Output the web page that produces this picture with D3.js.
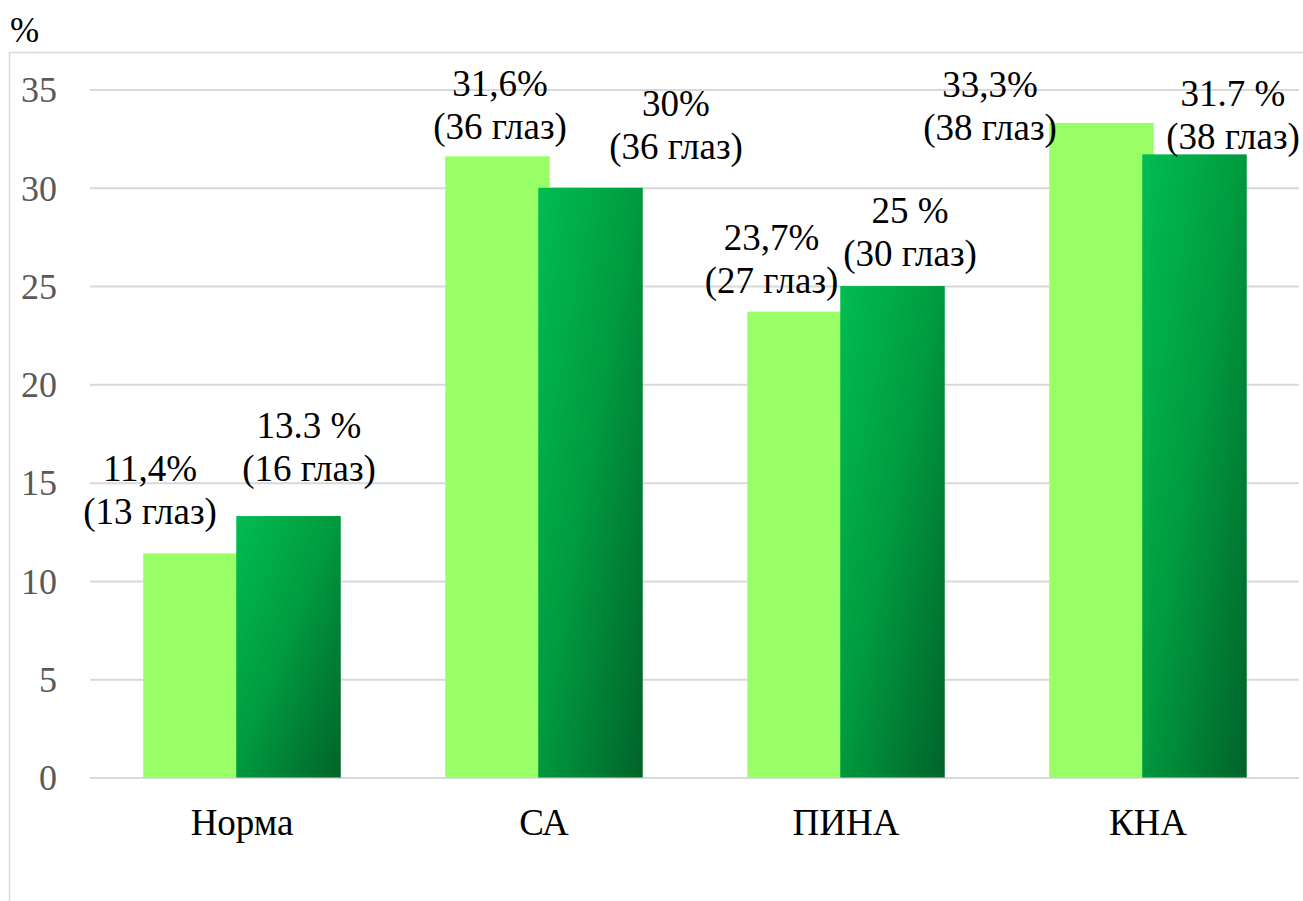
<!DOCTYPE html>
<html><head><meta charset="utf-8"><script src="https://cdn.jsdelivr.net/npm/d3@7"></script></head>
<body style="margin:0">
<svg id="chart" width="1303" height="901"></svg>
<script>
// ---- data ----
const categories = ["Норма", "СА", "ПИНА", "КНА"];
const seriesA = [11.4, 31.6, 23.7, 33.3];          // first group, %
const seriesB = [13.3, 30, 25, 31.7];              // second group, %
const seriesAPctText = ["11,4%", "31,6%", "23,7%", "33,3%"];
const seriesBPctText = ["13.3 %", "30%", "25 %", "31.7 %"];
const seriesAEyes = [13, 36, 27, 38];
const seriesBEyes = [16, 36, 30, 38];
const yTicks = [0, 5, 10, 15, 20, 25, 30, 35];
const yUnit = "%";

// ---- layout ----
const W = 1303, H = 901;
const FONT = "Liberation Serif";
const plot = { left: 91, right: 1299, top: 89.5, bottom: 777.5 };
const gapWidth = 1.0;     // gap between groups, in bar widths
const overlap = 0.11;     // overlap of the two bars, in bar widths

// manual label placement: [dx from bar centre, dy of second line baseline from bar top]
const labelShiftA = [[-45.5, -29], [2.5, -17], [-28, -19], [-111.5, 17]];
const labelShiftB = [[20.5, -35], [85.5, -29], [17.5, -20], [38.5, -5]];

const svg = d3.select("#chart");

// chart frame
svg.append("rect")
  .attr("x", 9.5).attr("y", 52.5)
  .attr("width", W + 50).attr("height", H + 50)
  .attr("fill", "none").attr("stroke", "#d9d9d9").attr("stroke-width", 1.5);

const x = d3.scaleBand().domain(categories).range([plot.left, plot.right]).padding(0);
const y = d3.scaleLinear().domain([0, 35]).range([plot.bottom, plot.top]);

const barW = x.bandwidth() / (2 - overlap + gapWidth);
const xA = c => x(c) + barW * gapWidth / 2;
const xB = c => xA(c) + barW * (1 - overlap);

// gridlines
const grid = svg.append("g")
  .attr("transform", `translate(${plot.left - 1},0)`)
  .call(d3.axisLeft(y).tickValues(yTicks).tickSize(-(plot.right - plot.left + 1)).tickFormat(""));
grid.select(".domain").remove();
grid.selectAll(".tick line").attr("stroke", "#d9d9d9").attr("stroke-width", 2);

// y axis labels
const yAxis = svg.append("g")
  .attr("transform", `translate(${plot.left - 1},0)`)
  .call(d3.axisLeft(y).tickValues(yTicks).tickSize(0).tickPadding(33));
yAxis.select(".domain").remove();
yAxis.attr("font-family", null).attr("font-size", null);
yAxis.selectAll("text")
  .style("font-family", FONT)
  .style("font-size", "36px").style("fill", "#595959").attr("dy", "0.34em");

// unit label
svg.append("text")
  .attr("x", 10).attr("y", 42)
  .style("font-family", FONT).style("font-size", "35px").style("fill", "#000")
  .text(yUnit);

// gradient for the second series
const defs = svg.append("defs");
const grad = defs.append("linearGradient")
  .attr("id", "darkGreen")
  .attr("x1", 0).attr("y1", 0).attr("x2", 1).attr("y2", 1);
grad.append("stop").attr("offset", "0%").attr("stop-color", "#00bd52");
grad.append("stop").attr("offset", "45%").attr("stop-color", "#009d40");
grad.append("stop").attr("offset", "100%").attr("stop-color", "#00632a");

const rowsA = categories.map((c, i) => ({ c, v: seriesA[i], i }));
const rowsB = categories.map((c, i) => ({ c, v: seriesB[i], i }));

svg.append("g").selectAll("rect").data(rowsA).join("rect")
  .attr("x", d => xA(d.c)).attr("y", d => y(d.v))
  .attr("width", barW).attr("height", d => y(0) - y(d.v))
  .attr("fill", "#99ff66");

svg.append("g").selectAll("rect").data(rowsB).join("rect")
  .attr("x", d => xB(d.c)).attr("y", d => y(d.v))
  .attr("width", barW).attr("height", d => y(0) - y(d.v))
  .attr("fill", "url(#darkGreen)");

// category axis
const xAxis = svg.append("g")
  .attr("transform", `translate(0,${plot.bottom})`)
  .call(d3.axisBottom(x).tickSize(0).tickPadding(31));
xAxis.select(".domain").remove();
xAxis.attr("font-family", null).attr("font-size", null);
xAxis.selectAll("text")
  .style("font-family", FONT)
  .style("font-size", "37px").style("fill", "#000");

// data labels
function drawLabels(rows, xPos, pct, eyes, shift) {
  rows.forEach(d => {
    const cx = xPos(d.c) + barW / 2 + shift[d.i][0];
    const base = y(d.v) + shift[d.i][1];
    svg.append("text")
      .attr("x", cx).attr("y", base - 43)
      .attr("text-anchor", "middle")
      .style("font-family", FONT).style("font-size", "37px").style("fill", "#000")
      .text(pct[d.i]);
    svg.append("text")
      .attr("x", cx).attr("y", base)
      .attr("text-anchor", "middle")
      .style("font-family", FONT).style("font-size", "37px").style("fill", "#000")
      .text(`(${eyes[d.i]} глаз)`);
  });
}
drawLabels(rowsA, xA, seriesAPctText, seriesAEyes, labelShiftA);
drawLabels(rowsB, xB, seriesBPctText, seriesBEyes, labelShiftB);
</script>
</body>
</html>
